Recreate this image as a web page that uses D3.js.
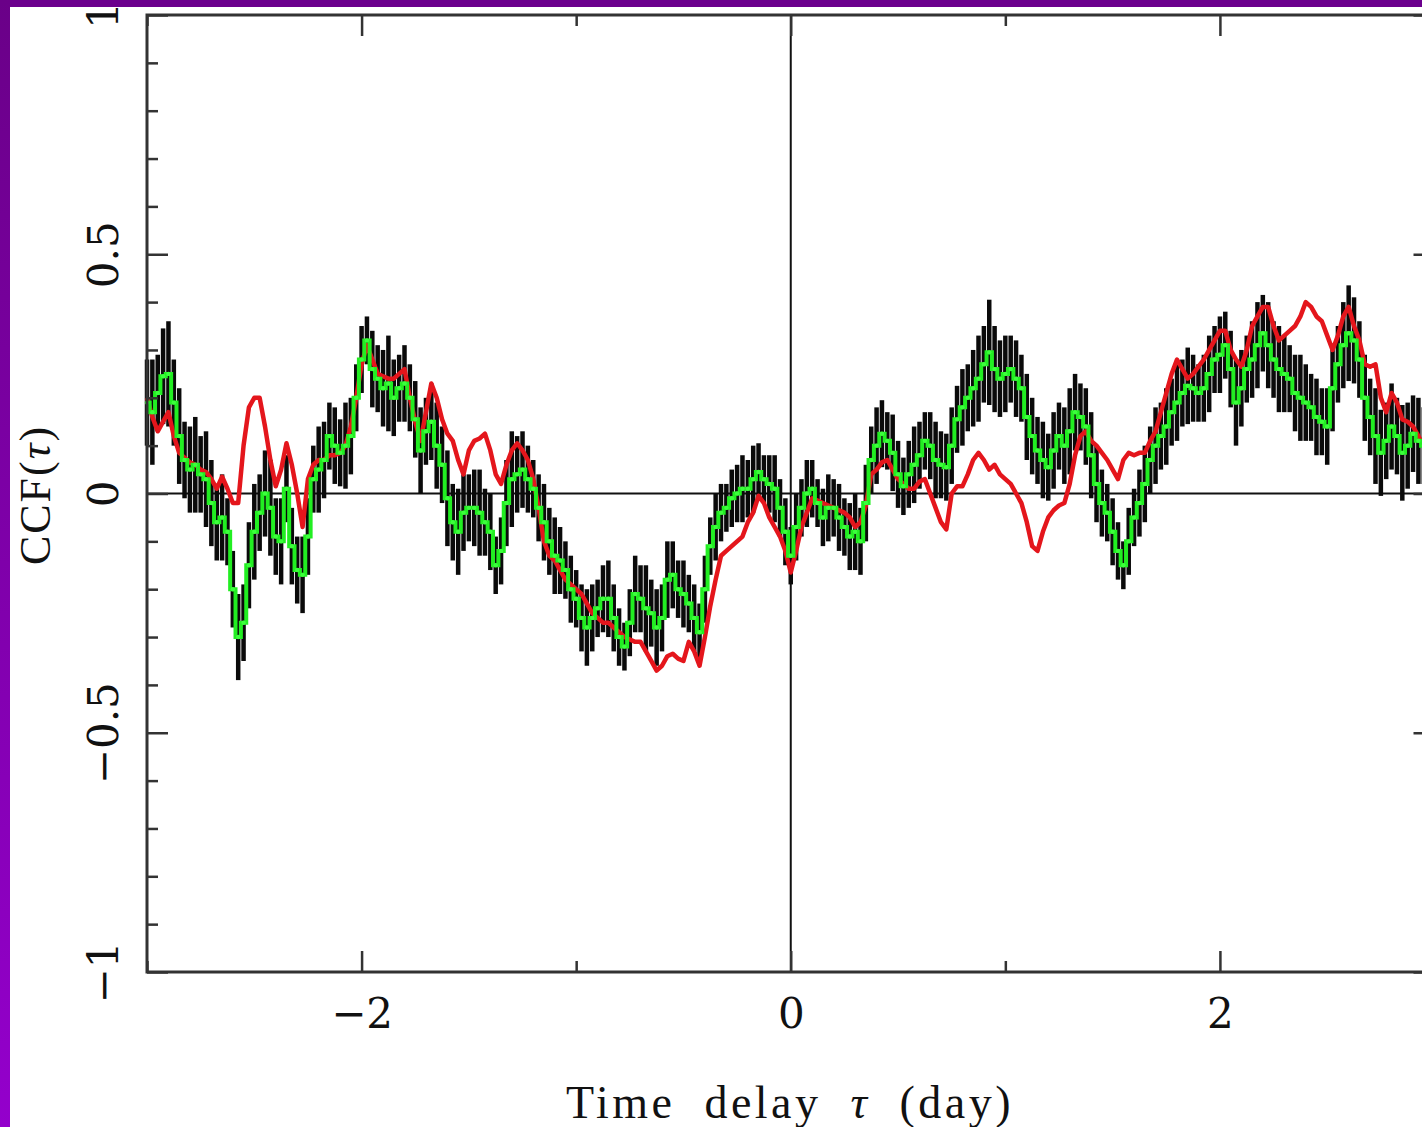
<!DOCTYPE html>
<html>
<head>
<meta charset="utf-8">
<script src="https://cdn.jsdelivr.net/npm/d3@7"></script>
<style>
  body { margin: 0; background: #fff; }
  svg { display: block; overflow: hidden; }
</style>
</head>
<body>
<div id="chart"></div>
<script>
// lag grid: tau = lagStart + i*lagStep (days)
const lagStart = -3
const lagStep = 0.025

// CCF values (green step curve)
const ccfGreen = [
  0.19, 0.17, 0.21, 0.245, 0.25, 0.19, 0.12, 0.07, 0.05, 0.06,
  0.04, 0.03, -0.02, -0.06, -0.05, -0.08, -0.2, -0.3, -0.27, -0.15,
  -0.08, -0.04, 0.0, -0.03, -0.09, -0.1, 0.01, -0.11, -0.16, -0.17,
  -0.09, 0.03, 0.05, 0.07, 0.12, 0.1, 0.085, 0.1, 0.12, 0.2,
  0.28, 0.32, 0.26, 0.24, 0.22, 0.23, 0.2, 0.22, 0.23, 0.2,
  0.155, 0.09, 0.13, 0.15, 0.1, 0.06, -0.01, -0.06, -0.08, -0.04,
  -0.03, -0.03, -0.04, -0.06, -0.08, -0.15, -0.12, -0.02, 0.03, 0.04,
  0.05, 0.03, 0.01, -0.03, -0.06, -0.1, -0.13, -0.14, -0.16, -0.2,
  -0.22, -0.26, -0.28, -0.26, -0.24, -0.22, -0.22, -0.26, -0.3, -0.32,
  -0.27, -0.21, -0.22, -0.24, -0.25, -0.28, -0.26, -0.18, -0.17, -0.2,
  -0.21, -0.23, -0.26, -0.29, -0.2, -0.11, -0.07, -0.04, -0.03, -0.01,
  0.0, 0.01, 0.01, 0.03, 0.045, 0.03, 0.02, 0.01, -0.03, -0.08,
  -0.13, -0.07, -0.03, 0.0, 0.01, -0.02, -0.05, -0.03, -0.03, -0.05,
  -0.07, -0.09, -0.08, -0.1, -0.02, 0.07, 0.1, 0.125, 0.11, 0.085,
  0.04, 0.015, 0.04, 0.06, 0.08, 0.11, 0.1, 0.07, 0.06, 0.055,
  0.1, 0.155, 0.18, 0.2, 0.22, 0.24, 0.27, 0.295, 0.26, 0.24,
  0.25, 0.26, 0.24, 0.22, 0.16, 0.12, 0.09, 0.07, 0.055, 0.09,
  0.12, 0.1, 0.13, 0.17, 0.16, 0.14, 0.08, 0.02, -0.02, -0.04,
  -0.08, -0.12, -0.15, -0.1, -0.05, -0.02, 0.02, 0.07, 0.1, 0.12,
  0.14, 0.17, 0.19, 0.21, 0.225, 0.22, 0.21, 0.22, 0.25, 0.28,
  0.29, 0.31, 0.26, 0.19, 0.22, 0.26, 0.28, 0.31, 0.335, 0.31,
  0.28, 0.26, 0.25, 0.24, 0.21, 0.2, 0.19, 0.18, 0.16, 0.15,
  0.14, 0.22, 0.27, 0.31, 0.335, 0.32, 0.28, 0.2, 0.16, 0.12,
  0.085, 0.11, 0.14, 0.12, 0.085, 0.1, 0.125, 0.11, 0.1, 0.09,
  0.09
]

// error bar half-widths (black)
const ccfErr = [
  0.09, 0.11, 0.08, 0.1, 0.11, 0.09, 0.1, 0.08, 0.09, 0.1,
  0.08, 0.1, 0.09, 0.08, 0.09, 0.07, 0.08, 0.09, 0.08, 0.09,
  0.1, 0.08, 0.09, 0.1, 0.08, 0.09, 0.07, 0.08, 0.07, 0.08,
  0.08, 0.07, 0.09, 0.08, 0.07, 0.08, 0.07, 0.09, 0.08, 0.07,
  0.07, 0.05, 0.08, 0.07, 0.08, 0.1, 0.08, 0.07, 0.08, 0.07,
  0.08, 0.09, 0.07, 0.08, 0.09, 0.08, 0.1, 0.08, 0.09, 0.08,
  0.07, 0.08, 0.09, 0.07, 0.08, 0.06, 0.07, 0.09, 0.1, 0.08,
  0.08, 0.07, 0.06, 0.07, 0.08, 0.07, 0.08, 0.07, 0.06, 0.07,
  0.06, 0.07, 0.08, 0.07, 0.06, 0.07, 0.08, 0.07, 0.06, 0.05,
  0.07, 0.08, 0.07, 0.09, 0.07, 0.08, 0.07, 0.08, 0.07, 0.06,
  0.07, 0.06, 0.07, 0.06, 0.07, 0.06, 0.07, 0.06, 0.05, 0.06,
  0.06, 0.07, 0.06, 0.07, 0.06, 0.05, 0.06, 0.07, 0.06, 0.07,
  0.06, 0.07, 0.06, 0.07, 0.06, 0.05, 0.06, 0.07, 0.06, 0.07,
  0.06, 0.07, 0.08, 0.07, 0.08, 0.07, 0.08, 0.07, 0.06, 0.08,
  0.07, 0.06, 0.07, 0.08, 0.07, 0.06, 0.07, 0.08, 0.07, 0.07,
  0.08, 0.07, 0.08, 0.07, 0.08, 0.09, 0.08, 0.11, 0.09, 0.08,
  0.08, 0.07, 0.08, 0.07, 0.09, 0.08, 0.07, 0.08, 0.07, 0.08,
  0.07, 0.08, 0.09, 0.08, 0.07, 0.08, 0.09, 0.08, 0.07, 0.06,
  0.07, 0.06, 0.05, 0.07, 0.06, 0.07, 0.08, 0.07, 0.08, 0.07,
  0.08, 0.07, 0.08, 0.07, 0.08, 0.07, 0.06, 0.07, 0.08, 0.07,
  0.08, 0.07, 0.08, 0.09, 0.08, 0.07, 0.08, 0.09, 0.08, 0.09,
  0.08, 0.09, 0.08, 0.07, 0.08, 0.09, 0.08, 0.07, 0.08, 0.07,
  0.08, 0.09, 0.08, 0.09, 0.1, 0.09, 0.08, 0.09, 0.08, 0.1,
  0.09, 0.08, 0.09, 0.08, 0.1, 0.09, 0.08, 0.09, 0.08, 0.09,
  0.08
]

// second CCF (red curve)
const ccfRed = [
  0.2, 0.16, 0.13, 0.15, 0.17, 0.12, 0.085, 0.075, 0.065, 0.06,
  0.05, 0.045, 0.03, 0.01, 0.035, 0.01, -0.02, -0.02, 0.1, 0.18,
  0.2, 0.2, 0.14, 0.07, 0.015, 0.05, 0.105, 0.06, 0.0, -0.07,
  0.03, 0.06, 0.07, 0.07, 0.08, 0.08, 0.085, 0.1, 0.14, 0.2,
  0.27, 0.31, 0.28, 0.25, 0.245, 0.24, 0.24, 0.25, 0.26, 0.2,
  0.15, 0.11, 0.17, 0.23, 0.2, 0.155, 0.125, 0.11, 0.07, 0.04,
  0.09, 0.11, 0.115, 0.125, 0.09, 0.04, 0.02, 0.06, 0.09, 0.105,
  0.09, 0.07, 0.03, -0.03, -0.1, -0.13, -0.14, -0.16, -0.18, -0.19,
  -0.2, -0.21, -0.23, -0.25, -0.26, -0.27, -0.27, -0.28, -0.29, -0.3,
  -0.305, -0.31, -0.31, -0.33, -0.35, -0.37, -0.36, -0.34, -0.335, -0.345,
  -0.35, -0.31, -0.33, -0.36, -0.3, -0.235, -0.18, -0.13, -0.12, -0.11,
  -0.1, -0.09, -0.06, -0.04, -0.005, -0.02, -0.05, -0.07, -0.09, -0.12,
  -0.165, -0.12, -0.07, -0.04, -0.01, -0.015, -0.02, -0.025, -0.03, -0.035,
  -0.04, -0.05, -0.07, -0.06, -0.025, 0.04, 0.05, 0.065, 0.07, 0.05,
  0.03, 0.02, 0.01, 0.01, 0.025, 0.03, 0.0, -0.03, -0.06, -0.075,
  0.0, 0.015, 0.015, 0.04, 0.07, 0.085, 0.07, 0.05, 0.06, 0.04,
  0.03, 0.02, 0.0, -0.02, -0.06, -0.11, -0.12, -0.08, -0.05, -0.035,
  -0.025, -0.02, 0.02, 0.08, 0.12, 0.13, 0.11, 0.1, 0.085, 0.07,
  0.05, 0.03, 0.07, 0.085, 0.08, 0.085, 0.085, 0.11, 0.13, 0.17,
  0.21, 0.25, 0.28, 0.26, 0.24, 0.25, 0.265, 0.28, 0.3, 0.32,
  0.34, 0.34, 0.3, 0.28, 0.265, 0.3, 0.35, 0.37, 0.39, 0.39,
  0.35, 0.32, 0.33, 0.34, 0.35, 0.37, 0.4, 0.39, 0.37, 0.36,
  0.33, 0.3, 0.33, 0.37, 0.39, 0.35, 0.32, 0.27, 0.265, 0.27,
  0.2, 0.17, 0.21, 0.19, 0.155, 0.15, 0.14, 0.12, 0.1, 0.1,
  0.1
]

const xTickMajor = [-2, 0, 2]
const xTickMinor = [-3, -1, 1, 3]
const yTickMajor = [-1, -0.5, 0, 0.5, 1]
const yTickMinor = [-0.9, -0.8, -0.7, -0.6, -0.4, -0.3, -0.2, -0.1, 0.1, 0.2, 0.3, 0.4, 0.6, 0.7, 0.8, 0.9]

const W = 1422, H = 1127
const plotL = 147, plotR = 1434.5, plotT = 15, plotB = 972
const frameCol = "#333"
const fnt = "'DejaVu Serif', serif"
const titleFnt = "'Liberation Serif', 'Times New Roman', serif"

var pts = ccfGreen.map((v, i) => ({ tau: lagStart + i * lagStep, g: v, e: ccfErr[i], r: ccfRed[i] }))

var x = d3.scaleLinear().domain([-3, 3]).range([plotL, plotR])
var y = d3.scaleLinear().domain([-1, 1]).range([plotB, plotT])

var svg = d3.select("#chart").append("svg")
    .attr("width", W).attr("height", H)

// purple slide border
var grad = svg.append("defs").append("linearGradient")
    .attr("id", "side").attr("x1", 0).attr("y1", 0).attr("x2", 0).attr("y2", 1)
grad.append("stop").attr("offset", "0%").attr("stop-color", "#6a0088")
grad.append("stop").attr("offset", "100%").attr("stop-color", "#9400cc")
svg.append("rect").attr("x", 0).attr("y", 0).attr("width", W).attr("height", 7).attr("fill", "#6b008d")
svg.append("rect").attr("x", 0).attr("y", 0).attr("width", 10).attr("height", H).attr("fill", "url(#side)")

var plot = svg.append("g")

// zero lines
plot.append("line").attr("x1", plotL).attr("x2", plotR).attr("y1", y(0)).attr("y2", y(0))
    .attr("stroke", "#111").attr("stroke-width", 2)
plot.append("line").attr("x1", x(0)).attr("x2", x(0)).attr("y1", plotT).attr("y2", plotB)
    .attr("stroke", "#111").attr("stroke-width", 2)

// error bars
plot.append("g").selectAll("line")
    .data(pts)
    .enter()
    .append("line")
    .attr("x1", d => x(d.tau)).attr("x2", d => x(d.tau))
    .attr("y1", d => y(d.g + d.e)).attr("y2", d => y(d.g - d.e))
    .attr("stroke", "#0a0a0a").attr("stroke-width", 4.5)

// red curve
plot.append("path")
    .datum(pts)
    .attr("d", d3.line().x(d => x(d.tau)).y(d => y(d.r)))
    .attr("fill", "none").attr("stroke", "#e4161c").attr("stroke-width", 4.5)
    .attr("stroke-linejoin", "round")

// green step curve + points
plot.append("path")
    .datum(pts)
    .attr("d", d3.line().curve(d3.curveStep).x(d => x(d.tau)).y(d => y(d.g)))
    .attr("fill", "none").attr("stroke", "#22ee22").attr("stroke-width", 4)
plot.append("g").selectAll("circle")
    .data(pts)
    .enter()
    .append("circle")
    .attr("cx", d => x(d.tau)).attr("cy", d => y(d.g)).attr("r", 2.2)
    .attr("fill", "#3cff3c")

// frame
plot.append("rect").attr("x", plotL).attr("y", plotT)
    .attr("width", plotR - plotL).attr("height", plotB - plotT)
    .attr("fill", "none").attr("stroke", frameCol).attr("stroke-width", 3)

function styleAxis(g) {
    g.select(".domain").remove()
    g.selectAll(".tick line").attr("stroke", frameCol).attr("stroke-width", 2.5)
}

// y axes (ticks point inward)
svg.append("g").attr("transform", `translate(${plotL},0)`)
    .call(d3.axisLeft(y).tickValues(yTickMajor).tickSize(-21).tickFormat(d3.format("")))
    .call(styleAxis)
    .call(g => g.selectAll(".tick text")
        .attr("x", 0).attr("y", -29).attr("dy", 0)
        .attr("transform", "rotate(-90)")
        .attr("text-anchor", "middle")
        .attr("fill", "#111")
        .style("font-family", fnt).style("font-size", "42px"))
svg.append("g").attr("transform", `translate(${plotL},0)`)
    .call(d3.axisLeft(y).tickValues(yTickMinor).tickSize(-11).tickFormat(""))
    .call(styleAxis)
svg.append("g").attr("transform", `translate(${plotR},0)`)
    .call(d3.axisRight(y).tickValues(yTickMajor).tickSize(-21).tickFormat(""))
    .call(styleAxis)
svg.append("g").attr("transform", `translate(${plotR},0)`)
    .call(d3.axisRight(y).tickValues(yTickMinor).tickSize(-11).tickFormat(""))
    .call(styleAxis)

// x axes
svg.append("g").attr("transform", `translate(0,${plotB})`)
    .call(d3.axisBottom(x).tickValues(xTickMajor).tickSize(-21).tickFormat(d3.format("")))
    .call(styleAxis)
    .call(g => g.selectAll(".tick text")
        .attr("y", 56).attr("dy", 0)
        .attr("fill", "#111")
        .style("font-family", fnt).style("font-size", "42px"))
svg.append("g").attr("transform", `translate(0,${plotB})`)
    .call(d3.axisBottom(x).tickValues(xTickMinor).tickSize(-11).tickFormat(""))
    .call(styleAxis)
svg.append("g").attr("transform", `translate(0,${plotT})`)
    .call(d3.axisTop(x).tickValues(xTickMajor).tickSize(-21).tickFormat(""))
    .call(styleAxis)
svg.append("g").attr("transform", `translate(0,${plotT})`)
    .call(d3.axisTop(x).tickValues(xTickMinor).tickSize(-11).tickFormat(""))
    .call(styleAxis)

// axis titles (tau in italic)
var xt = svg.append("text")
    .attr("x", 790).attr("y", 1118)
    .attr("text-anchor", "middle")
    .style("font-family", titleFnt).style("font-size", "46px")
    .style("letter-spacing", "3.5px").style("word-spacing", "14px")
    .attr("fill", "#111")
xt.append("tspan").text("Time delay ")
xt.append("tspan").style("font-style", "italic").text("τ")
xt.append("tspan").text(" (day)")

var yt = svg.append("text")
    .attr("transform", "translate(50,495) rotate(-90)")
    .attr("text-anchor", "middle")
    .style("font-family", titleFnt).style("font-size", "44px")
    .style("letter-spacing", "2px")
    .attr("fill", "#111")
yt.append("tspan").text("CCF(")
yt.append("tspan").style("font-style", "italic").text("τ")
yt.append("tspan").text(")")
</script>
</body>
</html>
